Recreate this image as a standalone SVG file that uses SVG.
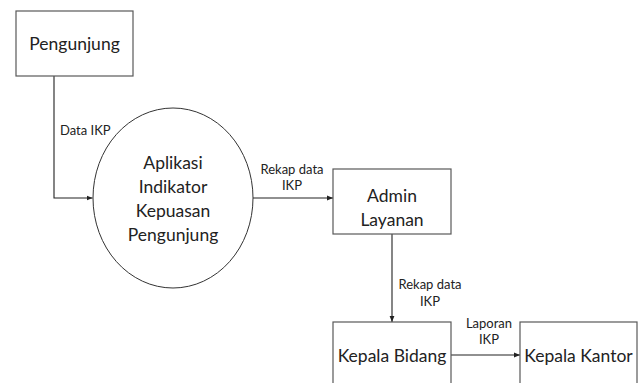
<svg xmlns="http://www.w3.org/2000/svg" width="640" height="383" viewBox="0 0 640 383">
<style>
.box{fill:#fff;stroke:#595959;stroke-width:1.2}
.circ{fill:#fff;stroke:#333;stroke-width:1}
.node{font-family:Lato,"Open Sans",sans-serif;font-size:17.5px;fill:#222;text-anchor:middle}
.lbl{font-family:Lato,"Open Sans",sans-serif;font-size:13px;fill:#222;text-anchor:middle}
.con{fill:none;stroke:#222;stroke-width:1.1;marker-end:url(#ah)}
</style>
<defs>
<marker id="ah" viewBox="0 0 10 10" refX="10" refY="5" markerWidth="6" markerHeight="6" markerUnits="userSpaceOnUse" orient="auto">
<path d="M0,1 L10,5 L0,9 z" fill="#222"/>
</marker>
</defs>
<rect width="640" height="383" fill="#fff"/>
<g id="connectors">
<path class="con" d="M54,76 V198 H92.5"/>
<path class="con" d="M253,198 H333"/>
<path class="con" d="M392,234 V322"/>
<path class="con" d="M451,355 H520"/>
<text class="lbl" x="60" y="135" style="text-anchor:start">Data IKP</text>
<text class="lbl" x="292" y="174">Rekap data</text>
<text class="lbl" x="292" y="190">IKP</text>
<text class="lbl" x="430" y="289">Rekap data</text>
<text class="lbl" x="430" y="306">IKP</text>
<text class="lbl" x="489" y="328">Laporan</text>
<text class="lbl" x="489" y="344">IKP</text>
</g>
<g id="pengunjung">
<rect class="box" x="16" y="11" width="117" height="65"/>
<text class="node" x="74.5" y="50">Pengunjung</text>
</g>
<g id="aplikasi">
<ellipse class="circ" cx="173" cy="198" rx="80" ry="90"/>
<text class="node" x="173" y="169">Aplikasi</text>
<text class="node" x="173" y="193">Indikator</text>
<text class="node" x="173" y="217">Kepuasan</text>
<text class="node" x="173" y="241">Pengunjung</text>
</g>
<g id="admin">
<rect class="box" x="333" y="169" width="118" height="65"/>
<text class="node" x="392" y="202">Admin</text>
<text class="node" x="392" y="226">Layanan</text>
</g>
<g id="kepala-bidang">
<rect class="box" x="333" y="322" width="118" height="80"/>
<text class="node" x="392" y="362">Kepala Bidang</text>
</g>
<g id="kepala-kantor">
<rect class="box" x="520" y="322" width="117" height="80"/>
<text class="node" x="578.5" y="362">Kepala Kantor</text>
</g>
</svg>
